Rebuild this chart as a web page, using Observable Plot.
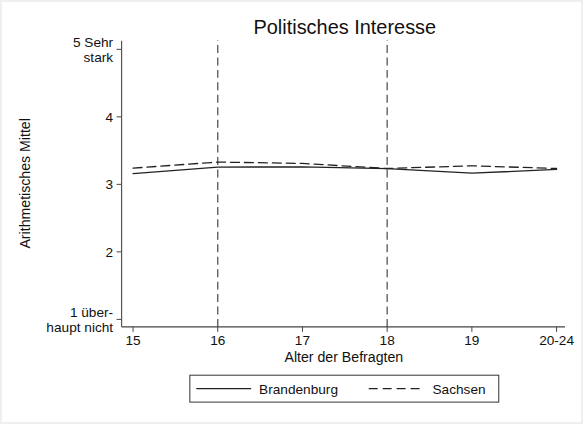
<!DOCTYPE html>
<html>
<head>
<meta charset="utf-8">
<script src="https://cdn.jsdelivr.net/npm/d3@7"></script>
<script src="https://cdn.jsdelivr.net/npm/@observablehq/plot@0.6"></script>
<style>
  html, body { margin: 0; padding: 0; background: #fff; }
  #frame { position: relative; width: 579px; height: 420px; border: 2px solid #efefef; background: #fff; overflow: hidden; }
  #chart { position: absolute; left: -2px; top: -2px; }
  svg { font-family: "Liberation Sans", Arial, sans-serif; }
</style>
</head>
<body>
<div id="frame"><div id="chart"></div></div>
<script>
const ages = ["15", "16", "17", "18", "19", "20-24"];
const brandenburg = [3.16, 3.255, 3.26, 3.232, 3.165, 3.222];
const sachsen = [3.24, 3.33, 3.31, 3.235, 3.275, 3.235];
const seriesNames = ["Brandenburg", "Sachsen"];
const yTicks = [1, 2, 3, 4, 5];
const yTickLabels = ["1 über-\nhaupt nicht", "2", "3", "4", "5 Sehr\nstark"];
const refAges = ["16", "18"];
const title = "Politisches Interesse";
const xLabel = "Alter der Befragten";
const yLabel = "Arithmetisches Mittel";

const data = [];
ages.forEach((a, i) => {
  data.push({age: a, value: brandenburg[i], series: seriesNames[0]});
  data.push({age: a, value: sachsen[i], series: seriesNames[1]});
});

const FS = 13.7;
const plot = Plot.plot({
  width: 583,
  height: 424,
  marginLeft: 122,
  marginRight: 16,
  marginTop: 41,
  marginBottom: 96,
  style: {fontFamily: "Liberation Sans, Arial, sans-serif", fontSize: FS + "px", color: "#111", background: "transparent"},
  x: {type: "point", domain: ages, range: [132, 558], padding: 0},
  y: {domain: [1, 5], range: [320, 49]},
  marks: [
    Plot.ruleY([2, 3, 4], {x1: 122, x2: 567, stroke: "#e6e6e6", strokeWidth: 1}),
    Plot.ruleX(refAges, {y1: 0.88, y2: 5.13, stroke: "#555", strokeWidth: 1.3, strokeDasharray: "8,4.5"}),
    Plot.line(data.filter(d => d.series === "Brandenburg"), {x: "age", y: "value", stroke: "#222", strokeWidth: 1.3}),
    Plot.line(data.filter(d => d.series === "Sachsen"), {x: "age", y: "value", stroke: "#222", strokeWidth: 1.3, strokeDasharray: "9,5"}),
    Plot.axisY(yTicks, {
      tickSize: 5, tickPadding: 4, stroke: "#444",
      tickFormat: (d) => yTickLabels[yTicks.indexOf(d)],
      fontSize: FS, lineHeight: 1.1, label: null
    }),
    Plot.axisX(ages, {tickSize: 5, tickPadding: 3, stroke: "#444", fontSize: FS, label: null})
  ]
});
document.getElementById("chart").appendChild(plot);

const svg = d3.select(plot);
svg.append("line").attr("x1", 122).attr("x2", 122).attr("y1", 41).attr("y2", 328).attr("stroke", "#555").attr("stroke-width", 1.2);
svg.append("line").attr("x1", 122).attr("x2", 567).attr("y1", 328).attr("y2", 328).attr("stroke", "#444").attr("stroke-width", 1.2);

svg.append("text").attr("x", 346).attr("y", 34).attr("text-anchor", "middle")
  .attr("font-size", 20).attr("fill", "#111").text(title);
svg.append("text").attr("x", 345).attr("y", 363).attr("text-anchor", "middle")
  .attr("font-size", 14.2).attr("fill", "#111").text(xLabel);
svg.append("text").attr("transform", "translate(30,184) rotate(-90)").attr("text-anchor", "middle")
  .attr("font-size", 14.2).attr("fill", "#111").text(yLabel);

// legend
const lg = svg.append("g").attr("text-anchor", "start");
lg.append("rect").attr("x", 190.5).attr("y", 376.5).attr("width", 310).attr("height", 27)
  .attr("fill", "#fff").attr("stroke", "#333").attr("stroke-width", 1);
lg.append("line").attr("x1", 197).attr("x2", 252).attr("y1", 390).attr("y2", 390).attr("stroke", "#222").attr("stroke-width", 1.3);
lg.append("text").attr("x", 260).attr("y", 395).attr("font-size", FS).attr("fill", "#111").text(seriesNames[0]);
lg.append("line").attr("x1", 370).attr("x2", 425).attr("y1", 390).attr("y2", 390).attr("stroke", "#222").attr("stroke-width", 1.3).attr("stroke-dasharray", "9,5");
lg.append("text").attr("x", 434).attr("y", 395).attr("font-size", FS).attr("fill", "#111").text(seriesNames[1]);
</script>
</body>
</html>
